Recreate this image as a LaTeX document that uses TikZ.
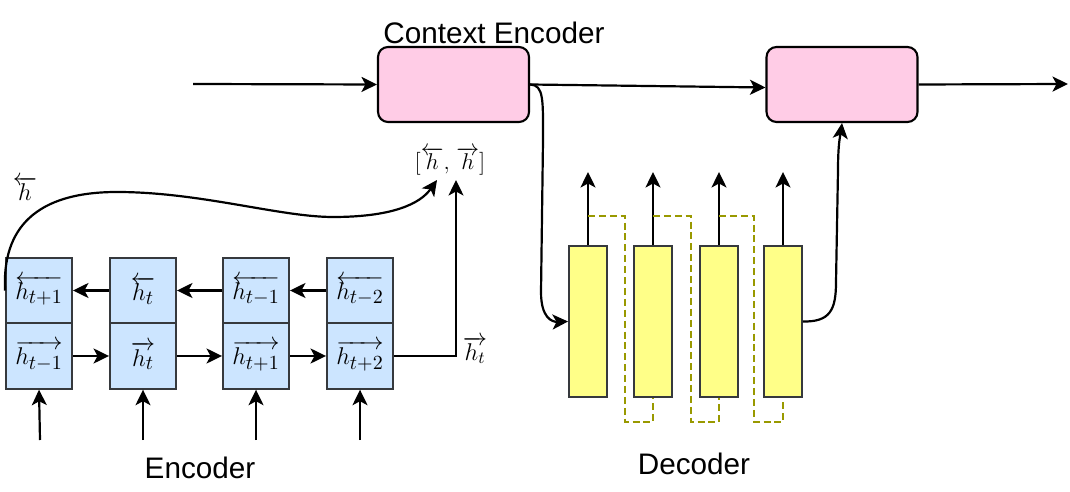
\RequirePackage{fix-cm}
\documentclass[tikz,border=0pt]{standalone}
\usepackage[no-math]{fontspec}
\newfontfamily\labelfont{Liberation Sans}
\usetikzlibrary{arrows.meta,calc}
\definecolor{ctxpink}{HTML}{FFCCE6}
\definecolor{cellblue}{HTML}{CCE5FF}
\definecolor{gateyellow}{HTML}{FFFF88}
\definecolor{cellborder}{HTML}{36393D}
\definecolor{skipolive}{HTML}{999900}
% h with a slightly reduced, lowered index
\newcommand\hsub[1]{h_{\hbox{\fontsize{11.4}{13}\selectfont$#1$}}}
\newcommand\cellmath[1]{{\fontsize{13.8}{16}\selectfont$#1$}}
\begin{document}
\begin{tikzpicture}[x=0.02cm,y=-0.02cm,
  conn/.style={line width=1.25pt,-{Stealth[length=0.31cm,width=0.3cm,inset=0.08cm]}},
  ctxbox/.style={draw,line width=1.2pt,fill=ctxpink,rounded corners=0.2cm,
    minimum width=3.02cm,minimum height=1.5cm,inner sep=0},
  cell/.style={draw=cellborder,line width=1.1pt,fill=cellblue,
    minimum width=1.32cm,minimum height=1.31cm,inner sep=0},
  bar/.style={draw=cellborder,line width=1.1pt,fill=gateyellow,
    minimum width=0.76cm,minimum height=3.02cm,inner sep=0},
  skip/.style={draw=skipolive,line width=1.1pt,dash pattern=on 4pt off 2.2pt},
  title/.style={font=\labelfont\fontsize{16.9}{19}\selectfont,inner sep=0}]
\useasboundingbox (0,0) rectangle (1070,492);

% context encoder and decoder state boxes
\node[ctxbox] (ce) at (453.5,84.5) {};
\node[ctxbox] (dec) at (842,84.5) {};
\node[title,anchor=west] (cetitle) at (383,33) {Context Encoder};

\coordinate (inpt) at (193,84);
\coordinate (outpt) at (1068,84);
\draw[conn] (inpt) -- (ce.west);
\draw[conn] (ce.east) -- ($(dec.west)+(0,3)$);
\draw[conn] (dec.east) -- (outpt);

% bidirectional encoder cells
\node[cell] (c1t) at (39,290.5)  {\cellmath{\overleftarrow{\hsub{t{+}1}}}};
\node[cell] (c2t) at (143,290.5) {\cellmath{\overleftarrow{\hsub{t}}}};
\node[cell] (c3t) at (256,290.5) {\cellmath{\overleftarrow{\hsub{t{-}1}}}};
\node[cell] (c4t) at (360,290.5) {\cellmath{\overleftarrow{\hsub{t{-}2}}}};
\node[cell] (c1b) at (39,356)  {\cellmath{\overrightarrow{\hsub{t{-}1}}}};
\node[cell] (c2b) at (143,356) {\cellmath{\overrightarrow{\hsub{t}}}};
\node[cell] (c3b) at (256,356) {\cellmath{\overrightarrow{\hsub{t{+}1}}}};
\node[cell] (c4b) at (360,356) {\cellmath{\overrightarrow{\hsub{t{+}2}}}};

\draw[conn] (c2t.west) -- (c1t.east);
\draw[conn] (c3t.west) -- (c2t.east);
\draw[conn] (c4t.west) -- (c3t.east);
\draw[conn] (c1b.east) -- (c2b.west);
\draw[conn] (c2b.east) -- (c3b.west);
\draw[conn] (c3b.east) -- (c4b.west);

\foreach \i/\x in {1/40,2/143,3/256,4/360}{
  \coordinate (in\i) at (\x,440);
  \draw[conn] (in\i) -- (c\i b.south);
}

\node[title] (enc) at (200,468) {Encoder};

% concatenated final states
\node[inner sep=0] (cat) at (450,161)
  {{\fontsize{13}{15}\selectfont$[\overleftarrow{h},\mkern2mu\overrightarrow{h}]$}};
\node[inner sep=0] (hfw) at (475,350) {\cellmath{\overrightarrow{h_t}}};
\node[inner sep=0] (hbw) at (25,189) {\cellmath{\overleftarrow{h}}};

\coordinate (fwtip) at (456,180);
\coordinate (bwtip) at (437,180);
\draw[conn] (c4b.east) -- (456,356) -- (fwtip);
\draw[conn] (c1t.west) .. controls (2,228) and (36,192) .. (117,192)
  .. controls (200,192) and (280,217) .. (333,217)
  .. controls (392,217) and (420,204) .. (bwtip);

% decoder gates
\node[bar] (b1) at (588,321.5) {};
\node[bar] (b2) at (653,321.5) {};
\node[bar] (b3) at (719,321.5) {};
\node[bar] (b4) at (783,321.5) {};
\foreach \i/\x in {1/588,2/653,3/719,4/783}{
  \coordinate (o\i) at (\x,172);
  \draw[conn] (b\i.north) -- (o\i);
}

% skip connections between consecutive gates
\draw[skip] (588,216) -- (625,216) -- (625,422) -- (653,422) -- (b2.south);
\draw[skip] (653,216) -- (691,216) -- (691,422) -- (719,422) -- (b3.south);
\draw[skip] (719,216) -- (754,216) -- (754,422) -- (783,422) -- (b4.south);

\node[title] (decl) at (694,464) {Decoder};

% context into the decoder, decoder back into the state box
\draw[conn] (ce.east) .. controls (544,85) and (543,100) .. (543,140)
  -- (541,292) .. controls (541,318) and (552,322) .. (b1.west);
\draw[conn] (b4.east) .. controls (830,322) and (836,310) .. (836,282)
  -- (838,170) .. controls (838,140) and (841,132) .. (dec.south);
\end{tikzpicture}
\end{document}
